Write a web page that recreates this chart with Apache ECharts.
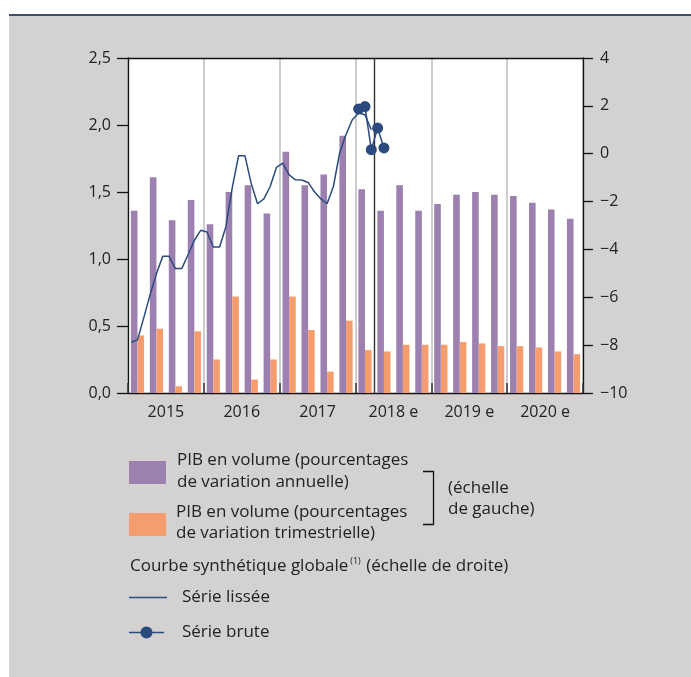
<!DOCTYPE html>
<html>
<head>
<meta charset="utf-8">
<script src="https://cdn.jsdelivr.net/npm/echarts@6/dist/echarts.min.js"></script>
<style>
html,body{margin:0;padding:0;background:#fff;}
#chart{width:691px;height:677px;}
</style>
</head>
<body>
<div id="chart"></div>
<script>
// ---- data ----
const years = ['2015', '2016', '2017', '2018 e', '2019 e', '2020 e'];
const quarters = ['2015 T1','2015 T2','2015 T3','2015 T4','2016 T1','2016 T2','2016 T3','2016 T4',
  '2017 T1','2017 T2','2017 T3','2017 T4','2018 T1','2018 T2','2018 T3','2018 T4',
  '2019 T1','2019 T2','2019 T3','2019 T4','2020 T1','2020 T2','2020 T3','2020 T4'];
const pibAnnuel = [1.36, 1.61, 1.29, 1.44, 1.26, 1.50, 1.55, 1.34, 1.80, 1.55, 1.63, 1.92,
  1.52, 1.36, 1.55, 1.36, 1.41, 1.48, 1.50, 1.48, 1.47, 1.42, 1.37, 1.30];
const pibTrimestriel = [0.43, 0.48, 0.05, 0.46, 0.25, 0.72, 0.10, 0.25, 0.72, 0.47, 0.16, 0.54,
  0.32, 0.31, 0.36, 0.36, 0.36, 0.38, 0.37, 0.35, 0.35, 0.34, 0.31, 0.29];
const months = [];
['2015','2016','2017','2018','2019','2020'].forEach(function(y){
  for (let m = 1; m <= 12; m++) months.push(y + '-' + (m < 10 ? '0' + m : m));
});
const serieLissee = [-7.88, -7.78, -6.85, -5.89, -5.01, -4.29, -4.29, -4.80, -4.80, -4.22, -3.62, -3.20,
  -3.27, -3.90, -3.90, -3.04, -1.42, -0.08, -0.08, -1.25, -2.09, -1.89, -1.37, -0.57,
  -0.39, -0.88, -1.09, -1.10, -1.20, -1.59, -1.88, -2.09, -1.37, 0.04, 0.80, 1.42,
  1.70, 1.63, 1.00];
const serieBrute = [1.87, 1.97, 0.17, 1.07, 0.24]; // janv. 2018 -> mai 2018
const serieBruteStart = 36;
const derniereObservation = 13; // fin du 1er trimestre 2018 (en trimestres)

// ---- build series arrays ----
const lisseeData = months.map(function(_, i){ return i < serieLissee.length ? serieLissee[i] : null; });
const bruteData = months.map(function(_, i){
  const k = i - serieBruteStart;
  return (k >= 0 && k < serieBrute.length) ? serieBrute[k] : null;
});

const C_VIOLET = '#9b80b0';
const C_ORANGE = '#f59d6e';
const C_BLEU = '#2b4a7e';
const C_TEXT = '#222222';
const FONT = "'Open Sans', 'Noto Sans', sans-serif";

const chart = echarts.init(document.getElementById('chart'), null, {renderer: 'canvas'});

const fmtLeft = function(v){ return v.toFixed(1).replace('.', ','); };
const fmtRight = function(v){ return v < 0 ? '\u2212' + Math.abs(v) : String(v); };

const legendX = 129;
const textX = 177;
const fs = 16;
const lfs = 17;
const LFONT = lfs + 'px ' + FONT;

const option = {
  backgroundColor: '#ffffff',
  animation: false,
  textStyle: {fontFamily: FONT},
  grid: {left: 128, top: 58, width: 455, height: 335, show: true, backgroundColor: '#ffffff', borderWidth: 0, z: 0},
  xAxis: [
    {type: 'category', data: quarters, gridIndex: 0, show: false, axisLine: {onZero: false}},
    {type: 'category', data: years, gridIndex: 0, position: 'bottom',
      axisLine: {show: true, onZero: false, lineStyle: {color: '#111', width: 1.3}},
      axisTick: {show: true, inside: true, length: 10, interval: 0, lineStyle: {color: '#333', width: 1.5}},
      axisLabel: {show: true, color: C_TEXT, fontSize: fs, fontFamily: FONT, margin: 11, interval: 0},
      splitLine: {show: true, interval: 0, lineStyle: {color: '#bdbdbd', width: 1.5}}
    },
    {type: 'category', data: months, gridIndex: 0, position: 'top',
      axisLine: {show: true, onZero: false, lineStyle: {color: '#111', width: 1.3}},
      axisTick: {show: false}, axisLabel: {show: false}, splitLine: {show: false}
    },
    {type: 'value', min: 0, max: quarters.length, gridIndex: 0, show: false, axisLine: {onZero: false}, splitLine: {show: false}}
  ],
  yAxis: [
    {type: 'value', min: 0, max: 2.5, interval: 0.5, position: 'left',
      axisLine: {show: true, onZero: false, lineStyle: {color: '#111', width: 1.3}},
      axisTick: {show: true, length: 11, lineStyle: {color: '#111', width: 1.3}},
      axisLabel: {color: C_TEXT, fontSize: fs, fontFamily: FONT, margin: 17, formatter: fmtLeft},
      splitLine: {show: false}
    },
    {type: 'value', min: -10, max: 4, interval: 2, position: 'right',
      axisLine: {show: true, onZero: false, lineStyle: {color: '#111', width: 1.3}},
      axisTick: {show: true, length: 10, lineStyle: {color: '#111', width: 1.3}},
      axisLabel: {color: C_TEXT, fontSize: fs, fontFamily: FONT, margin: 17, formatter: fmtRight},
      splitLine: {show: false}
    }
  ],
  series: [
    {name: 'PIB annuel', type: 'bar', xAxisIndex: 0, yAxisIndex: 0, data: pibAnnuel,
      barWidth: 6.6, barGap: '0%', itemStyle: {color: C_VIOLET}, z: 2},
    {name: 'PIB trimestriel', type: 'bar', xAxisIndex: 0, yAxisIndex: 0, data: pibTrimestriel,
      barWidth: 6.6, barGap: '0%', itemStyle: {color: C_ORANGE}, z: 2},
    {name: 'marqueur', type: 'line', xAxisIndex: 3, yAxisIndex: 0, data: [], z: 3,
      markLine: {symbol: ['none', 'none'], silent: true, label: {show: false},
        lineStyle: {color: '#333', width: 1.4, type: 'solid'},
        data: [{xAxis: derniereObservation}]}},
    {name: 'Série lissée', type: 'line', xAxisIndex: 2, yAxisIndex: 1, data: lisseeData,
      showSymbol: false, symbol: 'none', lineStyle: {color: C_BLEU, width: 1.5}, z: 4},
    {name: 'Série brute', type: 'line', xAxisIndex: 2, yAxisIndex: 1, data: bruteData,
      symbol: 'circle', symbolSize: 11, showSymbol: true, showAllSymbol: true,
      itemStyle: {color: C_BLEU}, lineStyle: {color: C_BLEU, width: 1.5}, z: 5}
  ],
  graphic: [
    {type: 'rect', z: -100, silent: true, shape: {x: 9, y: 14, width: 682, height: 663}, style: {fill: '#d4d2d0'}},
    {type: 'rect', z: -99, silent: true, shape: {x: 9, y: 14, width: 682, height: 2}, style: {fill: '#3d4e6d'}},
    // legend: annual bars
    {type: 'rect', shape: {x: legendX, y: 461, width: 37, height: 23}, style: {fill: C_VIOLET}},
    {type: 'text', x: textX, y: 460.5, style: {text: 'PIB en volume (pourcentages', fill: C_TEXT, font: LFONT, textVerticalAlign: 'middle'}},
    {type: 'text', x: textX, y: 482, style: {text: 'de variation annuelle)', fill: C_TEXT, font: LFONT, textVerticalAlign: 'middle'}},
    // legend: quarterly bars
    {type: 'rect', shape: {x: legendX, y: 513, width: 37, height: 23}, style: {fill: C_ORANGE}},
    {type: 'text', x: textX - 1, y: 512.5, style: {text: 'PIB en volume (pourcentages', fill: C_TEXT, font: LFONT, textVerticalAlign: 'middle'}},
    {type: 'text', x: textX - 1, y: 533.5, style: {text: 'de variation trimestrielle)', fill: C_TEXT, font: LFONT, textVerticalAlign: 'middle'}},
    // bracket
    {type: 'polyline', shape: {points: [[423, 471.5], [433.5, 471.5], [433.5, 524.5], [423, 524.5]]}, style: {stroke: '#111', lineWidth: 1.3, fill: null}},
    {type: 'text', x: 448, y: 488, style: {text: '(échelle', fill: C_TEXT, font: LFONT, textVerticalAlign: 'middle'}},
    {type: 'text', x: 448, y: 509.5, style: {text: 'de gauche)', fill: C_TEXT, font: LFONT, textVerticalAlign: 'middle'}},
    // curve heading
    {type: 'text', x: 130, y: 566, style: {
      text: 'Courbe synthétique globale{sup|(1)} (échelle de droite)',
      fill: C_TEXT, font: LFONT, textVerticalAlign: 'middle',
      rich: {sup: {fontSize: 9, fontFamily: FONT, fill: C_TEXT, padding: [0, 1, 9, 2]}}
    }},
    // Série lissée
    {type: 'line', shape: {x1: 129, y1: 597.5, x2: 167, y2: 597.5}, style: {stroke: C_BLEU, lineWidth: 1.5}},
    {type: 'text', x: 182, y: 597.5, style: {text: 'Série lissée', fill: C_TEXT, font: LFONT, textVerticalAlign: 'middle'}},
    // Série brute
    {type: 'line', shape: {x1: 129, y1: 632.5, x2: 164, y2: 632.5}, style: {stroke: C_BLEU, lineWidth: 1.5}},
    {type: 'circle', shape: {cx: 146.5, cy: 632.5, r: 6}, style: {fill: C_BLEU}},
    {type: 'text', x: 182, y: 632.5, style: {text: 'Série brute', fill: C_TEXT, font: LFONT, textVerticalAlign: 'middle'}}
  ]
};
chart.setOption(option);
</script>
</body>
</html>
